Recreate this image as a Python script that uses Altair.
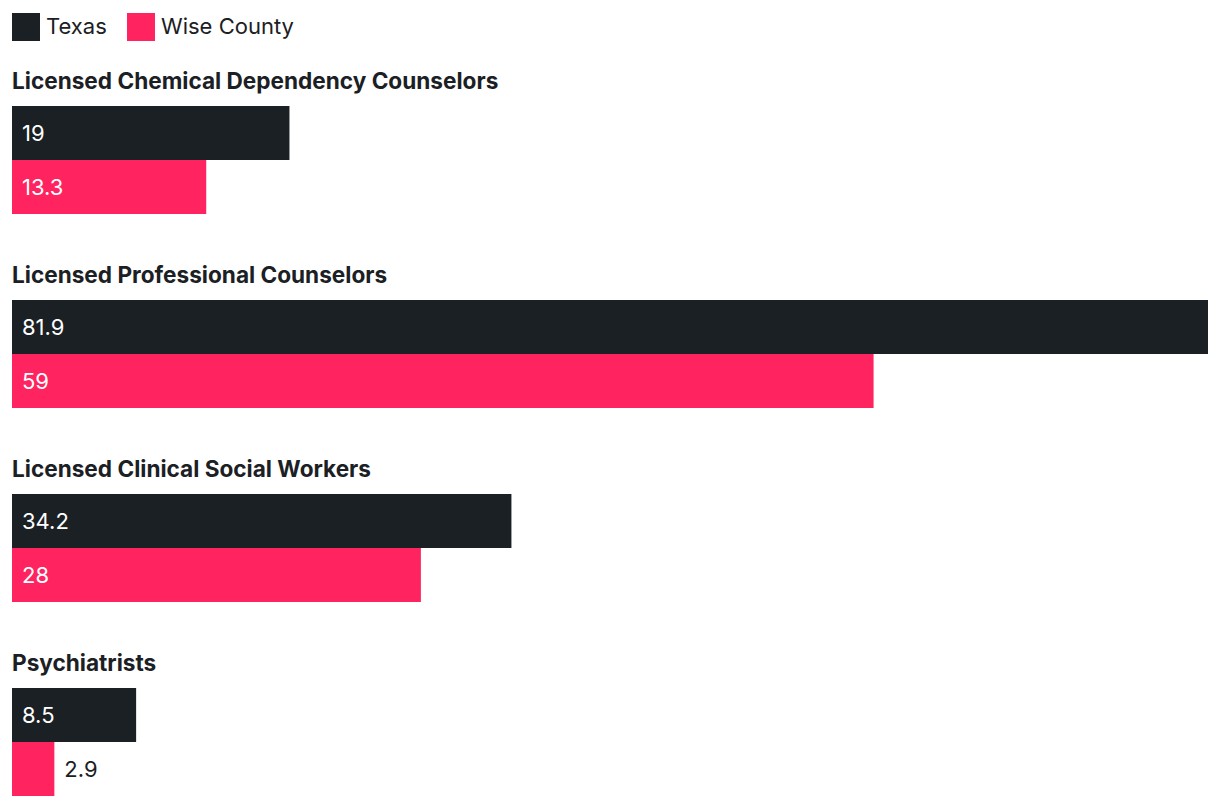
import altair as alt
import pandas as pd

categories = [
    "Licensed Chemical Dependency Counselors",
    "Licensed Professional Counselors",
    "Licensed Clinical Social Workers",
    "Psychiatrists",
]
series = ["Texas", "Wise County"]
texas = [19, 81.9, 34.2, 8.5]
wise = [13.3, 59, 28, 2.9]
colors = ["#1b2024", "#ff2360"]

rows = []
for i, c in enumerate(categories):
    rows.append({"cat": c, "series": "Texas", "value": texas[i]})
    rows.append({"cat": c, "series": "Wise County", "value": wise[i]})
df = pd.DataFrame(rows)

FONT = "Inter"

xscale = alt.Scale(domain=[0, 81.9], nice=False, zero=True)
yenc = alt.Y("series:N", sort=series, axis=None,
             scale=alt.Scale(paddingInner=0, paddingOuter=0))

bars = alt.Chart().mark_bar().encode(
    x=alt.X("value:Q", scale=xscale, axis=None),
    y=yenc,
    color=alt.Color("series:N", sort=series,
                    scale=alt.Scale(domain=series, range=colors),
                    legend=alt.Legend(title=None, orient="top", direction="horizontal",
                                      symbolType="square", symbolSize=784,
                                      symbolStrokeWidth=0, symbolOpacity=1,
                                      labelFont=FONT, labelFontSize=22,
                                      labelColor="#1b2024", labelOffset=6,
                                      columnPadding=20, offset=30)),
)

text_in = alt.Chart().transform_filter("datum.value >= 5").mark_text(
    align="left", baseline="middle", dx=10, dy=1, font=FONT, fontSize=22, color="#ffffff"
).encode(
    x=alt.value(0),
    y=yenc,
    text=alt.Text("value:Q"),
)

text_out = alt.Chart().transform_filter("datum.value < 5").mark_text(
    align="left", baseline="middle", dx=10, dy=1, font=FONT, fontSize=22, color="#1b2024"
).encode(
    x=alt.X("value:Q", scale=xscale, axis=None),
    y=yenc,
    text=alt.Text("value:Q"),
)

chart = alt.layer(bars, text_in, text_out, data=df).properties(
    width=1196, height=108
).facet(
    facet=alt.Facet("cat:N", sort=categories, title=None,
                    header=alt.Header(labelFont=FONT, labelFontSize=22.6,
                                      labelFontWeight=700, labelColor="#1b2024",
                                      labelAnchor="start", labelAlign="left",
                                      labelPadding=12)),
    columns=1,
    spacing=51,
).properties(
    padding={"left": 4, "top": 5, "right": 4, "bottom": 2}
).configure_view(stroke=None)

chart.save("out.html", embed_options={"renderer": "svg", "actions": False})
